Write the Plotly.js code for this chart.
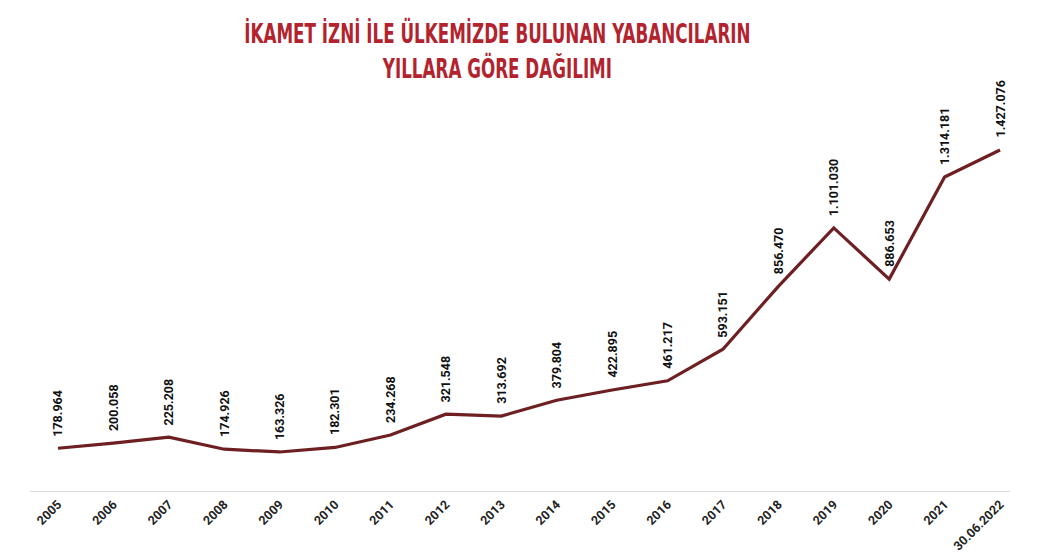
<!DOCTYPE html>
<html>
<head>
<meta charset="utf-8">
<script src="https://cdn.plot.ly/plotly-3.0.1.min.js"></script>
<style>html,body{margin:0;padding:0;background:#fff;}#chart{width:1045px;height:559px;}</style>
</head>
<body>
<div id="chart"></div>
<script>
const categories = ["2005","2006","2007","2008","2009","2010","2011","2012","2013","2014","2015","2016","2017","2018","2019","2020","2021","30.06.2022"];
const values = [178964,200058,225208,174926,163326,182301,234268,321548,313692,379804,422895,461217,593151,856470,1101030,886653,1314181,1427076];
const valueLabels = ["178.964","200.058","225.208","174.926","163.326","182.301","234.268","321.548","313.692","379.804","422.895","461.217","593.151","856.470","1.101.030","886.653","1.314.181","1.427.076"];

const idx = categories.map((c,i)=>i);

const trace = {
  x: idx, y: values, type: 'scatter', mode: 'lines',
  line: {color: '#6e1f22', width: 3.2},
  hoverinfo: 'skip'
};

const annotations = idx.map((i)=>({
  x: i, y: values[i], xref: 'x', yref: 'y',
  text: '<b>' + valueLabels[i] + '</b>', showarrow: false, textangle: -90,
  yanchor: 'bottom', xanchor: 'center', yshift: 10,
  font: {family: 'Roboto, "Liberation Sans", sans-serif', size: 12.5, color: '#111'}
}));

const layout = {
  width: 1045, height: 559,
  margin: {l: 30, r: 35, t: 80, b: 68},
  paper_bgcolor: '#fff', plot_bgcolor: '#fff',
  title: {
    text: 'İKAMET İZNİ İLE ÜLKEMİZDE BULUNAN YABANCILARIN<br>YILLARA GÖRE DAĞILIMI',
    x: 0.476, xanchor: 'center', y: 0.923, yanchor: 'top',
    font: {family: '"DejaVu Sans Condensed", sans-serif', size: 27, color: '#b3232e', weight: 'bold'}
  },
  xaxis: {
    range: [-0.505, 17.18], tickvals: idx, ticktext: categories.map(c => '<b>' + c + '</b>'),
    tickangle: -45, showgrid: false, zeroline: false,
    showline: true, linecolor: '#d9d9d9', linewidth: 1.3, ticks: '',
    tickfont: {family: 'Roboto, "Liberation Sans", sans-serif', size: 12.5, color: '#222'}
  },
  yaxis: {
    range: [0, 1720000], visible: false, showgrid: false, zeroline: false
  },
  annotations: annotations,
  showlegend: false
};

Plotly.newPlot('chart', [trace], layout, {displayModeBar: false, staticPlot: true}).then(function(){
  const t = document.querySelector('.gtitle');
  if (t) {
    const bb = t.getBBox();
    const cx = bb.x + bb.width/2;
    const s = 0.69;
    t.setAttribute('transform', 'translate(' + (cx*(1-s)) + ',0) scale(' + s + ',1)');
  }
});
</script>
</body>
</html>
